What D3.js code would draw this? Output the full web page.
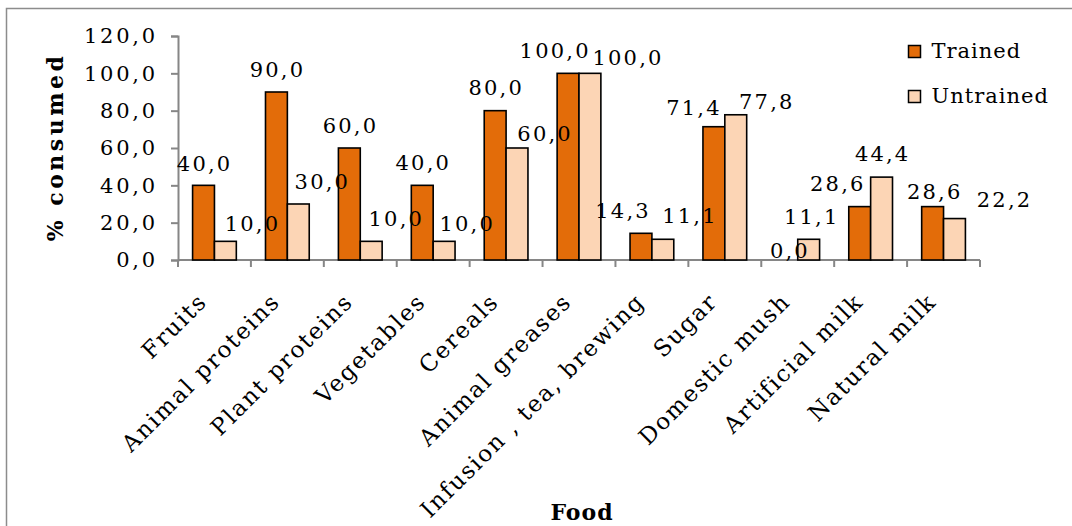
<!DOCTYPE html>
<html>
<head>
<meta charset="utf-8">
<script src="https://cdn.jsdelivr.net/npm/d3@7"></script>
<style>
  html, body { margin: 0; padding: 0; background: #fff; }
  svg { display: block; }
  text { font-family: "DejaVu Serif", serif; fill: #000; }
</style>
</head>
<body>
<svg id="chart" width="1072" height="526"></svg>
<script>
// Food groups consumed, by training status of the mother
const categories = [
  "Fruits", "Animal proteins", "Plant proteins", "Vegetables", "Cereals",
  "Animal greases", "Infusion , tea, brewing", "Sugar", "Domestic mush",
  "Artificial milk", "Natural milk"
];
const seriesNames = ["Trained", "Untrained"];
const trained   = [40.0, 90.0, 60.0, 40.0, 80.0, 100.0, 14.3, 71.4, 0.0, 28.6, 28.6];
const untrained = [10.0, 30.0, 10.0, 10.0, 60.0, 100.0, 11.1, 77.8, 11.1, 44.4, 22.2];
const yTicks = [0, 20, 40, 60, 80, 100, 120];

// Hand-placed nudges for the value labels: [dx from bar centre, gap above bar top]
const nudgeTrained = [
  [0, 14], [0, 15], [0, 15], [0, 15], [0, 16], [-14, 15],
  [-19, 15], [-21, 12], [2, 2], [-23, 16], [1, 8]
];
const nudgeUntrained = [
  [26, 10], [23, 15], [24, 15], [22, 10], [27, 7], [37, 8],
  [26, 16], [30, 6], [2, 15], [0, 16], [49, 12]
];

const colors = { Trained: "#E36C09", Untrained: "#FCD5B5" };
const fmt = v => v.toFixed(1).replace(".", ",");

const svg = d3.select("#chart");

// outer chart frame
svg.append("rect")
  .attr("x", 6.5).attr("y", 8.5)
  .attr("width", 1080).attr("height", 540)
  .attr("fill", "none").attr("stroke", "#8c8c8c").attr("stroke-width", 1.5);

const plot = { left: 178, right: 980, top: 36, bottom: 260 };

const x = d3.scaleBand().domain(categories).range([plot.left, plot.right]).padding(0);
const xSub = d3.scaleBand().domain(seriesNames).range([0, x.bandwidth()])
  .paddingInner(0).paddingOuter(0.667);
const y = d3.scaleLinear().domain([0, 120]).range([plot.bottom, plot.top]);

const labelFont = 21;
const spacing = 2.2;

// y axis
const yAxis = svg.append("g")
  .attr("transform", `translate(${plot.left},0)`)
  .call(d3.axisLeft(y).tickValues(yTicks).tickFormat(fmt).tickSize(7).tickPadding(13));
yAxis.select(".domain").attr("stroke", "#868686").attr("stroke-width", 2);
yAxis.selectAll(".tick line").attr("stroke", "#868686").attr("stroke-width", 2);
yAxis.selectAll(".tick text")
  .style("font-family", "DejaVu Serif").style("font-size", labelFont + "px")
  .style("letter-spacing", "2.8px").attr("fill", "#000");

// x axis: ticks on category boundaries
const xAxisG = svg.append("g");
xAxisG.append("line")
  .attr("x1", plot.left).attr("x2", plot.right)
  .attr("y1", plot.bottom).attr("y2", plot.bottom)
  .attr("stroke", "#868686").attr("stroke-width", 2);
const bounds = categories.map(c => x(c)).concat([plot.right]);
xAxisG.selectAll("line.tk").data(bounds).join("line")
  .attr("class", "tk")
  .attr("x1", d => d).attr("x2", d => d)
  .attr("y1", plot.bottom).attr("y2", plot.bottom + 7)
  .attr("stroke", "#868686").attr("stroke-width", 2);

// rotated category labels
svg.append("g").selectAll("text").data(categories).join("text")
  .attr("transform", d => `translate(${x(d) + x.bandwidth() / 2 - 6},${plot.bottom + 43}) rotate(-45)`)
  .attr("text-anchor", "end")
  .style("font-size", "23px")
  .style("letter-spacing", "1.8px")
  .text(d => d);

// bars
const rows = categories.map((c, i) => ({ cat: c, i, Trained: trained[i], Untrained: untrained[i] }));
const groups = svg.append("g").selectAll("g").data(rows).join("g")
  .attr("transform", d => `translate(${x(d.cat)},0)`);

groups.selectAll("rect")
  .data(d => seriesNames.map(s => ({ s, v: d[s] })))
  .join("rect")
  .attr("x", d => xSub(d.s))
  .attr("y", d => y(d.v))
  .attr("width", xSub.bandwidth())
  .attr("height", d => y(0) - y(d.v))
  .attr("fill", d => colors[d.s])
  .attr("stroke", "#000")
  .attr("stroke-width", 1.6);

// value labels
const labelData = [];
rows.forEach(r => {
  seriesNames.forEach(s => {
    const n = s === "Trained" ? nudgeTrained[r.i] : nudgeUntrained[r.i];
    labelData.push({ cat: r.cat, s, v: r[s], dx: n[0], gap: n[1] });
  });
});
svg.append("g").selectAll("text").data(labelData).join("text")
  .attr("x", d => x(d.cat) + xSub(d.s) + xSub.bandwidth() / 2 + d.dx + spacing / 2)
  .attr("y", d => y(d.v) - d.gap)
  .attr("text-anchor", "middle")
  .style("font-size", labelFont + "px")
  .style("letter-spacing", spacing + "px")
  .text(d => fmt(d.v));

// axis titles
svg.append("text")
  .attr("transform", `translate(63,147) rotate(-90)`)
  .attr("text-anchor", "middle")
  .style("font-size", "22px").style("font-weight", "bold")
  .style("letter-spacing", "3.5px")
  .text("% consumed");

svg.append("text")
  .attr("x", 582).attr("y", 520)
  .attr("text-anchor", "middle")
  .style("font-size", "22px").style("font-weight", "bold")
  .style("letter-spacing", "1px")
  .text("Food");

// legend
const legend = svg.append("g").selectAll("g").data(seriesNames).join("g")
  .attr("transform", (d, i) => `translate(908.5,${45.5 + i * 45})`);
legend.append("rect")
  .attr("width", 12).attr("height", 12)
  .attr("fill", d => colors[d]).attr("stroke", "#000").attr("stroke-width", 1.5);
legend.append("text")
  .attr("x", 23).attr("y", 12.5)
  .style("font-size", labelFont + "px")
  .style("letter-spacing", "1px")
  .text(d => d);
</script>
</body>
</html>
